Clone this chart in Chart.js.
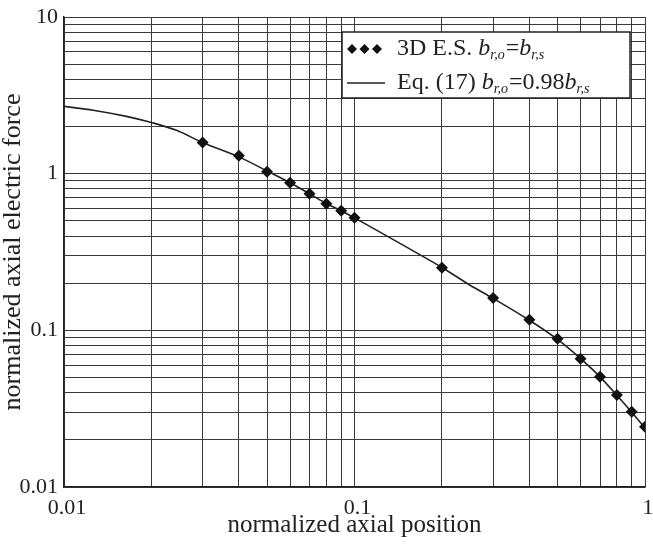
<!DOCTYPE html>
<html>
<head>
<meta charset="utf-8">
<script src="https://cdn.jsdelivr.net/npm/chart.js@4"></script>
<style>
  html, body { margin: 0; padding: 0; background: #fff; }
  #wrap { width: 653px; height: 545px; }
</style>
</head>
<body>
<div id="wrap"><canvas id="chart" width="653" height="545"></canvas></div>
<script>
// 3D electrostatic simulation points
const esX = [0.03, 0.04, 0.05, 0.06, 0.07, 0.08, 0.09, 0.1, 0.2, 0.3, 0.4, 0.5, 0.6, 0.7, 0.8, 0.9, 1.0];
const esY = [1.58, 1.30, 1.03, 0.876, 0.745, 0.643, 0.580, 0.523, 0.251, 0.161, 0.117, 0.0883, 0.0658, 0.0505, 0.0387, 0.0302, 0.0242];

// Eq. (17) curve
const eqX = [0.01, 0.0126, 0.0164, 0.02, 0.0244, 0.03, 0.04, 0.05, 0.06, 0.07, 0.08, 0.09, 0.1, 0.15, 0.2, 0.25, 0.3, 0.4, 0.5, 0.6, 0.7, 0.8, 0.9, 1.0];
const eqY = [2.69, 2.54, 2.32, 2.12, 1.89, 1.58, 1.28, 1.04, 0.875, 0.745, 0.645, 0.580, 0.522, 0.342, 0.252, 0.194, 0.160, 0.116, 0.0875, 0.0660, 0.0505, 0.0385, 0.0300, 0.0238];

// grid / tick values
const xTickValues = [0.01, 0.02, 0.03, 0.04, 0.05, 0.06, 0.07, 0.08, 0.09,
  0.1, 0.2, 0.3, 0.4, 0.5, 0.6, 0.7, 0.8, 0.9, 1];
const yTickValues = [0.01, 0.02, 0.03, 0.04, 0.05, 0.06, 0.07, 0.08, 0.09,
  0.1, 0.2, 0.3, 0.4, 0.5, 0.6, 0.7, 0.8, 0.9,
  1, 2, 3, 4, 5, 6, 7, 8, 9, 10];
const xTickLabels = ['0.01', '0.1', '1'];
const yTickLabels = ['0.01', '0.1', '1', '10'];

const xTitle = 'normalized axial position';
const yTitle = 'normalized axial electric force';

const SERIF = '"Liberation Serif", "Times New Roman", serif';

function labelFor(list, v) {
  const l = list.find(s => Math.abs(Number(s) - v) < 1e-9);
  return l === undefined ? '' : l;
}

// legend with subscripts, drawn on the canvas
const legendRows = [
  [['3D E.S. ', 'n'], ['b', 'i'], ['r,o', 's'], ['=', 'n'], ['b', 'i'], ['r,s', 's']],
  [['Eq. (17) ', 'n'], ['b', 'i'], ['r,o', 's'], ['=0.98', 'n'], ['b', 'i'], ['r,s', 's']]
];

function drawRich(ctx, parts, x, y) {
  ctx.textBaseline = 'middle';
  ctx.textAlign = 'left';
  for (const [t, k] of parts) {
    if (k === 'n') ctx.font = '24px ' + SERIF;
    else if (k === 'i') ctx.font = 'italic 24px ' + SERIF;
    else ctx.font = 'italic 14px ' + SERIF;
    const dy = k === 's' ? 6 : 0;
    ctx.fillText(t, x, y + dy);
    x += ctx.measureText(t).width + (k === 's' ? 1 : 0);
  }
}

const legendBox = {
  id: 'legendBox',
  afterDraw(chart) {
    const { ctx, chartArea } = chart;
    const w = 288, h = 66;
    const x = chartArea.right - 15 - w;
    const y = chartArea.top + 15;
    ctx.save();
    ctx.fillStyle = '#fff';
    ctx.fillRect(x, y, w, h);
    ctx.strokeStyle = '#222';
    ctx.lineWidth = 1.5;
    ctx.strokeRect(x, y, w, h);

    ctx.fillStyle = '#111';
    const r1 = y + 17, r2 = y + 51;
    [10, 22.5, 35].forEach(dx => {
      ctx.beginPath();
      ctx.moveTo(x + dx, r1 - 5);
      ctx.lineTo(x + dx + 5, r1);
      ctx.lineTo(x + dx, r1 + 5);
      ctx.lineTo(x + dx - 5, r1);
      ctx.closePath();
      ctx.fill();
    });
    ctx.beginPath();
    ctx.moveTo(x + 5, r2);
    ctx.lineTo(x + 43, r2);
    ctx.lineWidth = 1.3;
    ctx.stroke();

    ctx.fillStyle = '#222';
    drawRich(ctx, legendRows[0], x + 55, r1);
    drawRich(ctx, legendRows[1], x + 55, r2);
    ctx.restore();
  }
};

const ctx = document.getElementById('chart').getContext('2d');

new Chart(ctx, {
  type: 'scatter',
  data: {
    datasets: [
      {
        label: '3D E.S.',
        data: esX.map((x, i) => ({ x, y: esY[i] })),
        pointStyle: 'rectRot',
        pointRadius: 6,
        pointBackgroundColor: '#111',
        pointBorderColor: '#111',
        pointBorderWidth: 0,
        showLine: false,
        order: 0
      },
      {
        label: 'Eq. (17)',
        data: eqX.map((x, i) => ({ x, y: eqY[i] })),
        showLine: true,
        borderColor: '#222',
        borderWidth: 1.6,
        pointRadius: 0,
        cubicInterpolationMode: 'monotone',
        fill: false,
        order: 1
      }
    ]
  },
  options: {
    responsive: false,
    animation: false,
    events: [],
    layout: { padding: { top: 17, right: 8, left: 0, bottom: 0 } },
    plugins: {
      legend: { display: false },
      tooltip: { enabled: false }
    },
    scales: {
      x: {
        type: 'logarithmic',
        min: 0.01,
        max: 1,
        afterBuildTicks: axis => {
          axis.ticks = xTickValues.map(v => ({ value: v }));
        },
        afterFit: axis => {
          axis.height = 58;
          axis.paddingLeft = 0;
          axis.paddingRight = 0;
        },
        grid: { color: '#3a3a3a', lineWidth: 1, drawTicks: false },
        border: { color: '#222', width: 1.5 },
        ticks: {
          autoSkip: false,
          maxRotation: 0,
          padding: 8,
          labelOffset: 3,
          color: '#222',
          font: { family: SERIF, size: 22 },
          callback: v => labelFor(xTickLabels, v)
        },
        title: {
          display: true,
          text: xTitle,
          color: '#222',
          font: { family: SERIF, size: 25 },
          padding: { top: 0, bottom: 5 }
        }
      },
      y: {
        type: 'logarithmic',
        min: 0.01,
        max: 10,
        afterBuildTicks: axis => {
          axis.ticks = yTickValues.map(v => ({ value: v }));
        },
        afterFit: axis => {
          axis.width = 64;
          axis.paddingTop = 0;
          axis.paddingBottom = 0;
        },
        grid: { color: '#3a3a3a', lineWidth: 1, drawTicks: false },
        border: { color: '#222', width: 1.5 },
        ticks: {
          autoSkip: false,
          padding: 6,
          color: '#222',
          font: { family: SERIF, size: 22 },
          callback: v => labelFor(yTickLabels, v)
        },
        title: {
          display: true,
          text: yTitle,
          color: '#222',
          font: { family: SERIF, size: 26, lineHeight: 1 },
          padding: { top: 0, bottom: 0 }
        }
      }
    }
  },
  plugins: [legendBox]
});
</script>
</body>
</html>
